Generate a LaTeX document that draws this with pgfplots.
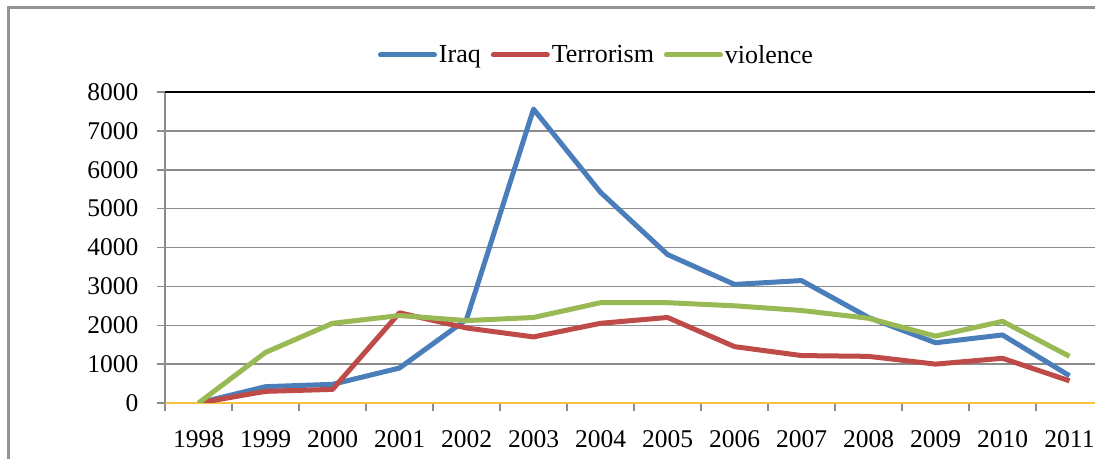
\documentclass[border=0pt]{standalone}
\usepackage{fontspec}
\setmainfont{Liberation Serif}
\usepackage{pgfplots}
\pgfplotsset{compat=1.18}
\definecolor{iraq}{HTML}{4A7EBB}
\definecolor{terr}{HTML}{BE4B48}
\definecolor{viol}{HTML}{98B954}
\definecolor{gridgray}{HTML}{8C8C8C}
\definecolor{xaxisc}{HTML}{F5C242}
\begin{document}
\begin{tikzpicture}
\useasboundingbox (0,0) rectangle (1095bp,459bp);
\clip (0,0) rectangle (1095bp,459bp);
\draw[color=gray!85, line width=2.5bp] (8.5bp,-10bp) -- (8.5bp,451.5bp) -- (1110bp,451.5bp);
\begin{axis}[
  at={(165bp,56bp)}, anchor=origin,
  scale only axis, width=938bp, height=311bp,
  xmin=0, xmax=14, ymin=0, ymax=8000,
  axis x line*=bottom, axis y line*=left,
  x axis line style={draw=xaxisc, line width=1.2bp},
  y axis line style={draw=gridgray, line width=1.5bp},
  xtick={0,...,14}, xticklabels={},
  extra x ticks={0.5,1.5,...,13.5},
  extra x tick labels={1998,1999,2000,2001,2002,2003,2004,2005,2006,2007,2008,2009,2010,2011},
  extra x tick style={major tick length=0pt, xticklabel style={yshift=-24bp}},
  ytick={0,1000,...,7000},
  extra y ticks={8000},
  extra y tick style={grid style={draw=black, line width=2.5bp}},
  ymajorgrids, grid style={draw=gridgray, line width=1.5bp},
  tick style={draw=gridgray, line width=1.5bp},
  tick align=outside, major tick length=8bp,
  yticklabel style={xshift=-15bp},
  scaled y ticks=false,
  /pgf/number format/.cd, 1000 sep={}, assume math mode=true,
  /pgfplots/.cd,
  tick label style={font=\fontsize{25.5bp}{30bp}\selectfont},
  legend style={at={(axis description cs:0.46,1.119)}, anchor=center, draw=none,
    legend columns=3, font=\fontsize{26bp}{30bp}\selectfont,
    /tikz/every even column/.append style={column sep=8bp},
    inner sep=0pt},
  legend image code/.code={\draw[#1, line cap=round] (0bp,0bp) -- (54bp,0bp);},
  every axis plot/.append style={line width=5bp, line join=round},
]
\addplot[iraq] coordinates {(0.5,0) (1.5,420) (2.5,480) (3.5,900) (4.5,2150) (5.5,7560) (6.5,5420) (7.5,3820) (8.5,3050) (9.5,3150) (10.5,2200) (11.5,1550) (12.5,1750) (13.5,700)};
\addlegendentry{Iraq}
\addplot[terr] coordinates {(0.5,0) (1.5,300) (2.5,350) (3.5,2320) (4.5,1930) (5.5,1700) (6.5,2050) (7.5,2200) (8.5,1450) (9.5,1220) (10.5,1200) (11.5,1000) (12.5,1150) (13.5,570)};
\addlegendentry{Terrorism}
\addplot[viol] coordinates {(0.5,0) (1.5,1300) (2.5,2050) (3.5,2250) (4.5,2120) (5.5,2200) (6.5,2580) (7.5,2580) (8.5,2500) (9.5,2380) (10.5,2180) (11.5,1720) (12.5,2100) (13.5,1200)};
\addlegendentry{violence}
\end{axis}
\end{tikzpicture}
\end{document}
